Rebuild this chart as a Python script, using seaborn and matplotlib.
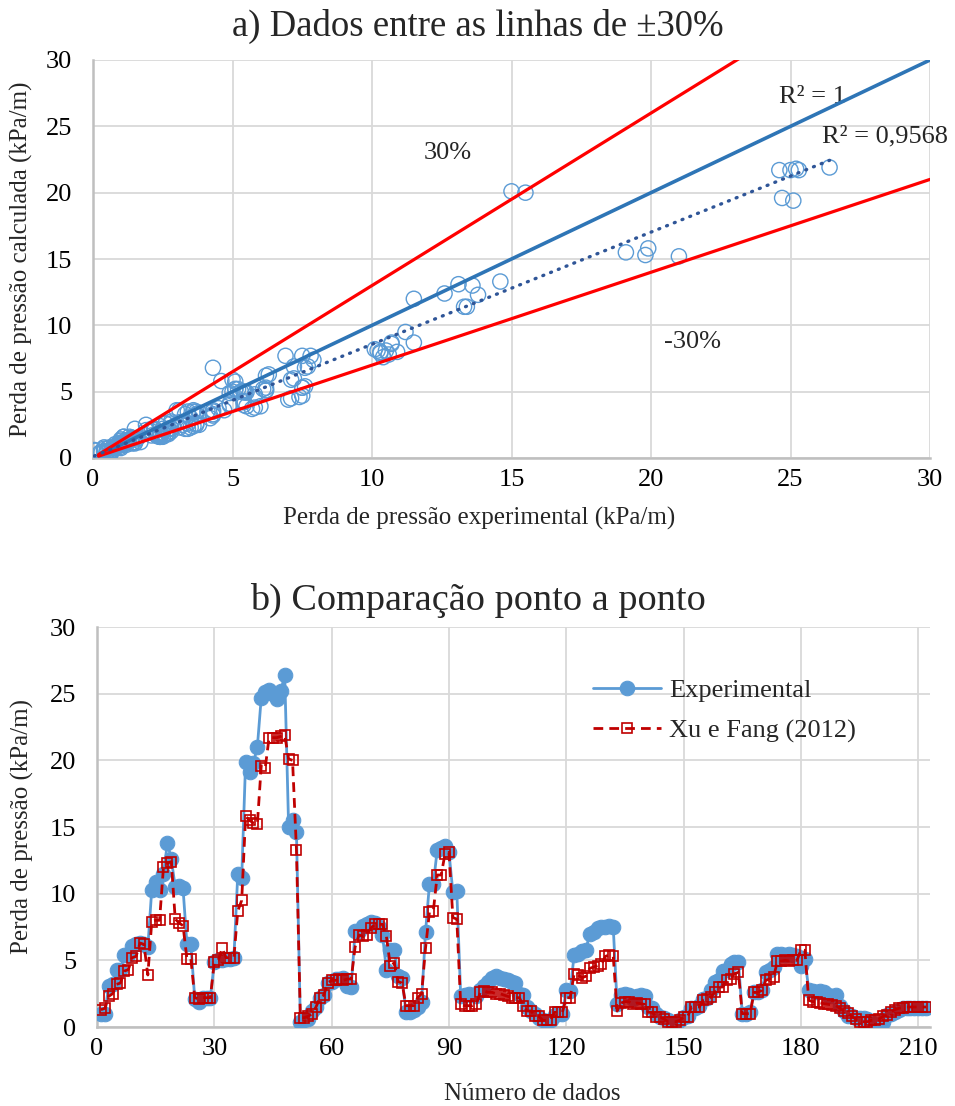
import numpy as np
import pandas as pd
import matplotlib
matplotlib.use("Agg")
import matplotlib.pyplot as plt
import seaborn as sns

# Pressure-drop data set (kPa/m): experimental vs. Xu & Fang (2012) correlation
experimental = [
    1.0, 1.0, 3.1, 3.2, 4.3, 4.3, 5.4, 5.4, 6.1, 6.2,
    6.3, 6.2, 6.0, 10.3, 10.9, 10.3, 11.5, 13.8, 12.6, 10.5,
    10.6, 10.4, 6.2, 6.2, 2.1, 1.9, 2.2, 2.2, 2.2, 4.9,
    5.0, 5.0, 5.1, 5.1, 5.2, 11.5, 11.2, 19.9, 19.1, 19.8,
    21.0, 24.7, 25.1, 25.3, 25.0, 24.6, 25.2, 26.4, 15.0, 15.5,
    14.6, 0.4, 0.5, 0.6, 1.2, 1.5, 2.2, 2.4, 3.3, 3.4,
    3.6, 3.6, 3.7, 3.1, 3.0, 7.2, 7.2, 7.6, 7.7, 7.9,
    7.8, 7.5, 6.9, 4.3, 5.8, 5.8, 3.8, 3.7, 1.1, 1.1,
    1.3, 1.5, 1.9, 7.1, 10.7, 10.7, 13.3, 13.4, 13.6, 13.1,
    10.1, 10.2, 2.3, 2.4, 2.5, 2.4, 2.3, 2.8, 3.1, 3.4,
    3.7, 3.8, 3.7, 3.6, 3.5, 3.4, 3.3, 2.5, 2.4, 1.5,
    1.2, 1.0, 0.7, 0.5, 0.4, 0.5, 0.9, 1.0, 1.0, 2.8,
    2.7, 5.4, 5.5, 5.7, 5.8, 7.0, 7.1, 7.4, 7.5, 7.5,
    7.6, 7.5, 1.7, 2.4, 2.5, 2.4, 2.1, 2.3, 2.4, 2.3,
    1.5, 1.4, 1.0, 0.75, 0.7, 0.5, 0.3, 0.25, 0.5, 0.75,
    0.8, 1.4, 1.4, 1.6, 2.1, 2.2, 2.8, 3.4, 3.5, 4.2,
    4.3, 4.7, 4.9, 4.9, 1.0, 1.0, 1.1, 2.6, 2.6, 2.8,
    4.1, 4.3, 4.5, 5.45, 5.5, 5.4, 5.45, 5.4, 5.3, 4.6,
    5.1, 2.8, 2.7, 2.65, 2.7, 2.6, 2.4, 2.3, 2.4, 1.55,
    1.2, 0.8, 0.8, 0.7, 0.65, 0.65, 0.6, 0.4, 0.1, 0.05,
    0.4, 0.9, 1.0, 1.15, 1.3, 1.4, 1.4, 1.4, 1.4, 1.4,
    1.4, 1.4,
]
xu_fang = [
    1.3, 1.4, 2.3, 2.5, 3.2, 3.3, 4.2, 4.3, 5.2, 5.3,
    6.3, 6.2, 3.9, 7.9, 8.0, 8.0, 12.0, 12.3, 12.4, 8.1,
    7.8, 7.6, 5.1, 5.1, 2.2, 2.1, 2.2, 2.2, 2.2, 4.9,
    5.0, 5.9, 5.2, 5.2, 5.2, 8.7, 9.5, 15.8, 15.5, 15.3,
    15.2, 19.6, 19.4, 21.7, 21.7, 21.7, 21.8, 21.9, 20.1, 20.0,
    13.3, 0.7, 0.7, 0.8, 1.0, 1.5, 2.2, 2.4, 3.3, 3.5,
    3.5, 3.6, 3.5, 3.6, 3.6, 6.0, 6.9, 6.8, 6.9, 7.4,
    7.7, 7.7, 7.7, 6.8, 4.6, 4.8, 3.4, 3.3, 1.6, 1.6,
    1.6, 2.2, 2.5, 5.9, 8.6, 8.7, 11.4, 11.4, 13.0, 13.1,
    8.2, 8.1, 1.7, 1.6, 1.6, 1.6, 1.7, 2.6, 2.7, 2.6,
    2.6, 2.5, 2.5, 2.4, 2.3, 2.2, 2.2, 2.2, 1.6, 1.2,
    1.2, 0.85, 0.8, 0.5, 0.5, 0.5, 1.1, 1.1, 1.1, 2.2,
    2.2, 4.0, 3.9, 3.7, 3.8, 4.4, 4.5, 4.6, 4.7, 5.3,
    5.4, 5.3, 1.2, 1.8, 1.9, 1.9, 1.7, 1.8, 1.75, 1.7,
    1.1, 1.1, 0.75, 0.75, 0.6, 0.4, 0.4, 0.4, 0.5, 0.75,
    0.75, 1.5, 1.5, 1.5, 2.0, 2.1, 2.25, 2.6, 3.0, 3.0,
    3.5, 3.6, 4.0, 4.1, 1.0, 1.0, 1.0, 2.6, 2.6, 2.75,
    3.5, 3.6, 3.75, 4.95, 4.95, 5.0, 4.95, 5.0, 5.0, 5.8,
    5.75, 2.0, 1.9, 1.9, 1.8, 1.75, 1.7, 1.65, 1.6, 1.4,
    1.2, 1.05, 0.8, 0.6, 0.4, 0.4, 0.4, 0.5, 0.55, 0.6,
    0.8, 0.9, 1.15, 1.3, 1.4, 1.45, 1.5, 1.5, 1.5, 1.5,
    1.5, 1.5,
]
point_number = list(range(1, len(experimental) + 1))

scatter_ticks = [0, 5, 10, 15, 20, 25, 30]
series_xticks = [0, 30, 60, 90, 120, 150, 180, 210]
series_yticks = [0, 5, 10, 15, 20, 25, 30]

df = pd.DataFrame({"n": point_number, "exp": experimental, "xu": xu_fang})

sns.set_theme(style="whitegrid")
plt.rcParams["font.family"] = ["Liberation Serif", "DejaVu Serif"]

GRID = "#D9D9D9"
AXIS = "#BFBFBF"
BLUE = "#5B9BD5"
LINE_BLUE = "#2E75B6"
RED = "#FF0000"
DARK_RED = "#C00000"
TREND = "#2F5597"

TICK_FS = 19
LABEL_FS = 18
TITLE_FS = 26.5
NOTE_FS = 19

W, H = 955, 1106
fig = plt.figure(figsize=(W / 100, H / 100), dpi=100)
ax1 = fig.add_axes([93 / W, 1 - 458 / H, (930 - 93) / W, (458 - 60) / H])
ax2 = fig.add_axes([97 / W, 1 - 1027 / H, (930 - 97) / W, (1027 - 627) / H])


def style_axes(ax):
    ax.set_facecolor("white")
    ax.grid(True, color=GRID, linewidth=1.3)
    ax.set_axisbelow(True)
    for side in ("top", "right"):
        ax.spines[side].set_visible(False)
    for side in ("left", "bottom"):
        ax.spines[side].set_color(AXIS)
        ax.spines[side].set_linewidth(1.8)
    ax.tick_params(axis="both", length=0, labelsize=TICK_FS, colors="black")
    ax.tick_params(axis="y", pad=15)
    ax.tick_params(axis="x", pad=8)


# --- a) calculated vs experimental -------------------------------------------
style_axes(ax1)
sns.scatterplot(data=df, x="exp", y="xu", ax=ax1, marker="o", s=120,
                facecolor="none", edgecolor=BLUE, linewidth=1.0, zorder=3)

ref_x = np.array([0.2, 30.0])
ax1.plot(ref_x, ref_x, color=LINE_BLUE, linewidth=2.6, zorder=4)
ax1.plot(ref_x, 1.3 * ref_x, color=RED, linewidth=2.3, zorder=4)
ax1.plot(ref_x, 0.7 * ref_x, color=RED, linewidth=2.3, zorder=4)

slope, intercept = np.polyfit(df["exp"], df["xu"], 1)
fit_x = np.array([df["exp"].min(), df["exp"].max()])
ax1.plot(fit_x, slope * fit_x + intercept, color=TREND, linewidth=2.4,
         linestyle=(0, (0.3, 2.2)), dash_capstyle="round", zorder=5)

ax1.text(12.7, 23.0, "30%", fontsize=NOTE_FS, ha="center", va="center")
ax1.text(21.5, 8.75, "-30%", fontsize=NOTE_FS, ha="center", va="center")
ax1.text(25.8, 27.2, "R² = 1", fontsize=NOTE_FS, ha="center", va="center")
ax1.text(28.4, 24.2, "R² = 0,9568", fontsize=NOTE_FS, ha="center", va="center")

ax1.set_xlim(0, 30)
ax1.set_ylim(0, 30)
ax1.set_xticks(scatter_ticks)
ax1.set_yticks(scatter_ticks)
ax1.set_xlabel("Perda de pressão experimental (kPa/m)", fontsize=LABEL_FS, va="center")
ax1.xaxis.set_label_coords(0.461, -0.151)
ax1.set_ylabel("Perda de pressão calculada (kPa/m)", fontsize=LABEL_FS, va="center")
ax1.yaxis.set_label_coords(-0.085, 0.5)
fig.text(478 / W, 1 - 26 / H, "a) Dados entre as linhas de ±30%",
         fontsize=TITLE_FS, ha="center", va="center")

# --- b) point-by-point comparison --------------------------------------------
style_axes(ax2)
sns.lineplot(data=df, x="n", y="exp", ax=ax2, color=BLUE, linewidth=2.0,
             marker="o", markersize=10.5, markeredgecolor=BLUE,
             markerfacecolor=BLUE, label="Experimental", zorder=3)
sns.lineplot(data=df, x="n", y="xu", ax=ax2, color=DARK_RED, linewidth=2.0,
             linestyle=(0, (3.5, 2.2)), marker="s", markersize=7.5,
             markerfacecolor="none", markeredgecolor=DARK_RED,
             markeredgewidth=1.2, label="Xu e Fang (2012)", zorder=4)

ax2.set_xlim(0, 213)
ax2.set_ylim(0, 30)
ax2.set_xticks(series_xticks)
ax2.set_yticks(series_yticks)
ax2.set_xlabel("Número de dados", fontsize=LABEL_FS, va="center")
ax2.xaxis.set_label_coords(0.522, -0.167)
ax2.set_ylabel("Perda de pressão (kPa/m)", fontsize=LABEL_FS, va="center")
ax2.yaxis.set_label_coords(-0.09, 0.5)
fig.text(478 / W, 1 - 600 / H, "b) Comparação ponto a ponto",
         fontsize=27.5, ha="center", va="center")
ax2.legend(loc="upper left", bbox_to_anchor=(0.583, 0.8975), frameon=False,
           fontsize=19, handlelength=2.58, handletextpad=0.3,
           labelspacing=0.63, borderaxespad=0.0)

fig.savefig("out.png", dpi=100, facecolor="white")
